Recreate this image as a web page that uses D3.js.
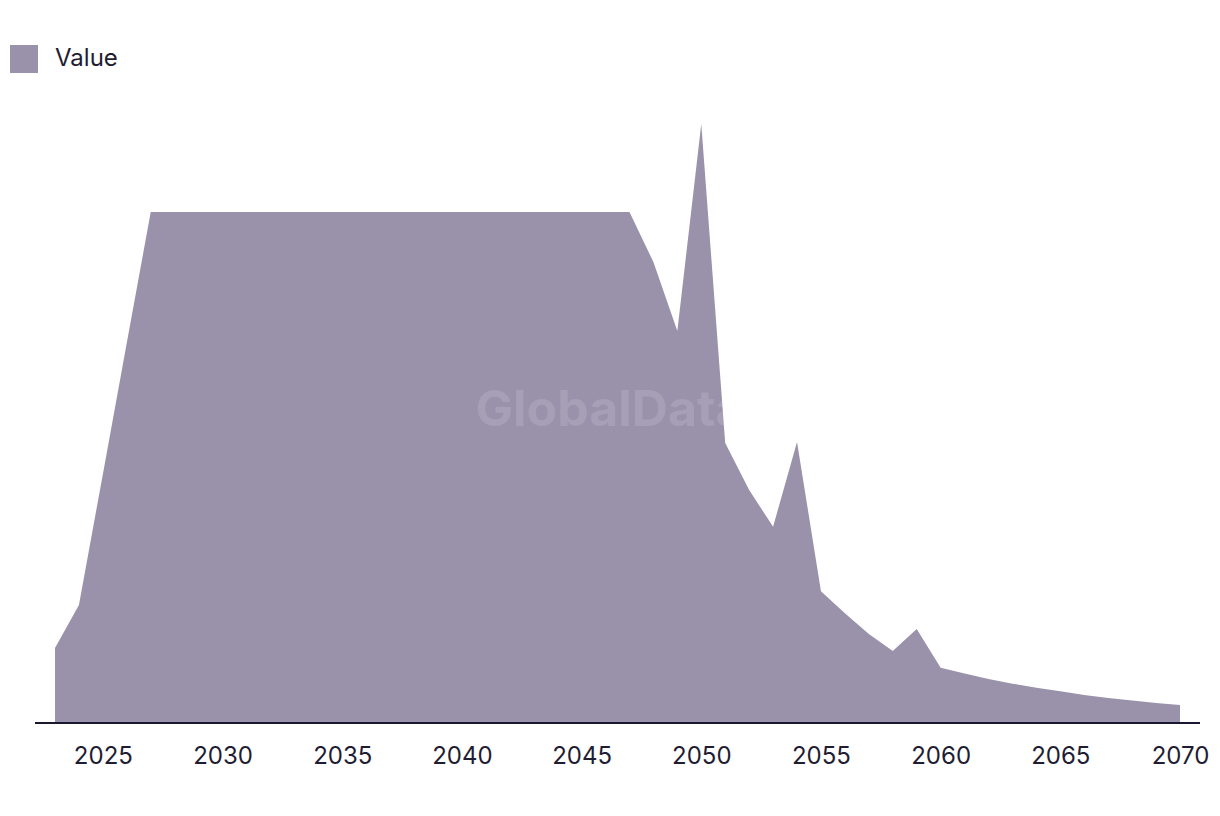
<!DOCTYPE html>
<html><head><meta charset="utf-8">
<script src="https://cdn.jsdelivr.net/npm/d3@7"></script>
<style>body{margin:0;background:#fff;} svg{display:block;font-family:"Inter","Roboto",sans-serif;}</style>
</head><body>
<svg id="c" width="1220" height="816"></svg>
<script>
const years = d3.range(2023, 2071);
const values = [147,231,487,744,
  1000,1000,1000,1000,1000,1000,1000,1000,1000,1000,1000,1000,1000,1000,1000,1000,1000,1000,1000,1000,1000,
  902,767,1172,548,456,384,550,258,215,174,141,184,108,97,86,77,69,62,55,49,44,39,35];
const tickYears = [2025,2030,2035,2040,2045,2050,2055,2060,2065,2070];
const seriesName = "Value";

const svg = d3.select("#c");
const x = d3.scaleLinear().domain([2023, 2070]).range([55, 1180]);
const y = d3.scaleLinear().domain([0, 1000]).range([723, 212]);
const data = years.map((yr, i) => ({yr, v: values[i]}));
const fill = "#9a91aa";

svg.append("path").datum(data)
  .attr("fill", fill)
  .attr("d", d3.area().x(d => x(d.yr)).y0(y(0)).y1(d => y(d.v)));

svg.append("text").attr("x", 610).attr("y", 426).attr("text-anchor", "middle")
  .attr("font-size", 50).attr("font-weight", 700).attr("fill", "#fff").attr("fill-opacity", 0.13)
  .text("GlobalData");

const axis = d3.axisBottom(x).tickValues(tickYears).tickFormat(d3.format("d")).tickSize(0).tickPadding(24);
const g = svg.append("g").attr("transform", `translate(0,${y(0)})`).call(axis);
g.select(".domain").remove();
g.append("line").attr("x1", 35).attr("x2", 1200).attr("y1", 0).attr("y2", 0)
  .attr("stroke", "#1a1730").attr("stroke-width", 2);
g.selectAll(".tick text").attr("font-size", 24).attr("fill", "#1f1d33")
  .attr("font-family", "Inter, Roboto, sans-serif");

const lg = svg.append("g");
lg.append("rect").attr("x", 10).attr("y", 45).attr("width", 28).attr("height", 28).attr("fill", fill);
lg.append("text").attr("x", 55).attr("y", 58).attr("dy", "0.35em").attr("font-size", 24)
  .attr("fill", "#1f1d33").text(seriesName);
</script>
</body></html>
